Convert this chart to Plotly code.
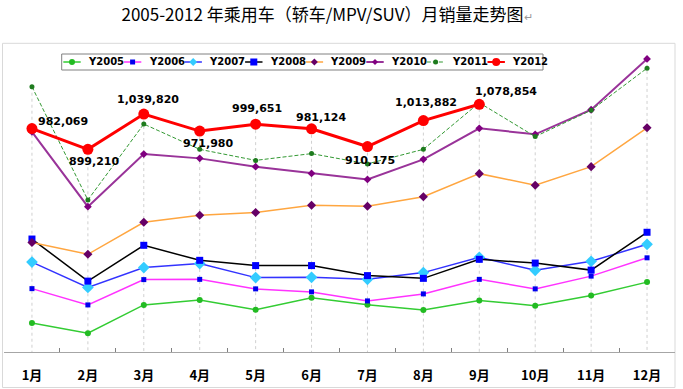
import plotly.graph_objects as go

# ---------------- data ----------------
months = ["1月", "2月", "3月", "4月", "5月", "6月", "7月", "8月", "9月", "10月", "11月", "12月"]
series_names = ["Y2005", "Y2006", "Y2007", "Y2008", "Y2009", "Y2010", "Y2011", "Y2012"]
y2005 = [206000, 165000, 278000, 298000, 259000, 307000, 279000, 258000, 296000, 275000, 316000, 369000]
y2006 = [343000, 278000, 379000, 380000, 342000, 330000, 294000, 322000, 380000, 342000, 393000, 466000]
y2007 = [449000, 348000, 427000, 443000, 387000, 388000, 380000, 407000, 468000, 416000, 452000, 520000]
y2008 = [541000, 373000, 516000, 456000, 435000, 435000, 395000, 384000, 460000, 445000, 417000, 568000]
y2009 = [527000, 480000, 608000, 636000, 647000, 676000, 672000, 710000, 802000, 756000, 830000, 985000]
y2010 = [969000, 670000, 880000, 863000, 830000, 803000, 779000, 859000, 983000, 959000, 1057000, 1260000]
y2011 = [1149000, 697000, 1000000, 899000, 855000, 882000, 841000, 899000, 1085000, 950000, 1055000, 1223000]
y2012 = [982069, 899210, 1039820, 971980, 999651, 981124, 910175, 1013882, 1078854]

values = [y2005, y2006, y2007, y2008, y2009, y2010, y2011, y2012]

# ---------------- styles ----------------
styles = [
    dict(line=dict(color="#33CC33", width=1.5), marker=dict(symbol="circle", size=6, color="#22BB22")),
    dict(line=dict(color="#FF33FF", width=1.5), marker=dict(symbol="square", size=5, color="#0000EE")),
    dict(line=dict(color="#3333FF", width=1.5), marker=dict(symbol="diamond", size=9, color="#33CCFF")),
    dict(line=dict(color="#000000", width=1.5), marker=dict(symbol="square", size=7, color="#0000FF")),
    dict(line=dict(color="#FFA640", width=1.5), marker=dict(symbol="diamond", size=7, color="#660066")),
    dict(line=dict(color="#993399", width=2), marker=dict(symbol="diamond", size=6, color="#800080")),
    dict(line=dict(color="#339933", width=1, dash="4px,2px"), marker=dict(symbol="circle", size=5, color="#1E7B1E")),
    dict(line=dict(color="#FF0000", width=3), marker=dict(symbol="circle", size=11, color="#FF0000")),
]

W, H = 683, 389
ML, MR, MT, MB = 4, 8, 50, 37
PW, PH = W - ML - MR, H - MT - MB
Y_MIN, Y_MAX = 90036, 1295620

x_idx = list(range(len(months)))

fig = go.Figure()

# drop lines (from the highest point of each month down to the axis)
drop_x, drop_y = [], []
for i in x_idx:
    top = max(v[i] for v in values if i < len(v))
    drop_x += [i, i, None]
    drop_y += [top, Y_MIN, None]
fig.add_trace(go.Scatter(x=drop_x, y=drop_y, mode="lines",
                         line=dict(color="#D0D0D0", width=1, dash="dot"),
                         hoverinfo="skip", showlegend=False))

for name, vals, st in zip(series_names, values, styles):
    fig.add_trace(go.Scatter(x=x_idx[:len(vals)], y=vals, name=name, mode="lines+markers",
                             line=st["line"], marker=st["marker"], showlegend=False))

# data labels for Y2012
label_shift = [(31, 7), (6, -12), (4, 15), (8, -12), (1, 16), (9, 11), (3, -14), (3, 18), (27, 13)]
for i, (v, (dx, dy)) in enumerate(zip(y2012, label_shift)):
    fig.add_annotation(x=i, y=v, xref="x", yref="y", text=f"{v:,}", showarrow=False,
                       xanchor="center", yanchor="middle", xshift=dx, yshift=dy,
                       font=dict(family="DejaVu Sans", size=11, color="#000000", weight="bold"))


def px_x(p):
    return (p - ML) / PW


def px_y(p):
    return (H - MB - p) / PH


shapes = []
# outer chart border
shapes.append(dict(type="rect", xref="paper", yref="paper",
                   x0=px_x(2.5), x1=px_x(675), y0=px_y(387.5), y1=px_y(43.3),
                   line=dict(color="#D9D9D9", width=1), layer="below"))
# legend box
shapes.append(dict(type="rect", xref="paper", yref="paper",
                   x0=px_x(61.7), x1=px_x(543), y0=px_y(70), y1=px_y(54),
                   line=dict(color="#808080", width=1), fillcolor="white", layer="above"))

step = 60.6
for k, (name, st) in enumerate(zip(series_names, styles)):
    x0 = 63.3 + step * k
    xc = x0 + 8.7
    ly = 62
    ln = dict(st["line"])
    ln["width"] = min(ln["width"], 2)
    shapes.append(dict(type="line", xref="paper", yref="paper",
                       x0=px_x(x0), x1=px_x(x0 + 17.4), y0=px_y(ly), y1=px_y(ly),
                       line=ln, layer="above"))
    m = st["marker"]
    r = max(2, min(m["size"], 8) / 2)
    if m["symbol"] == "circle":
        shapes.append(dict(type="circle", xref="paper", yref="paper",
                           xsizemode="pixel", ysizemode="pixel",
                           xanchor=px_x(xc), yanchor=px_y(ly),
                           x0=-r, x1=r, y0=-r, y1=r,
                           fillcolor=m["color"], line=dict(width=0), layer="above"))
    elif m["symbol"] == "square":
        shapes.append(dict(type="rect", xref="paper", yref="paper",
                           xsizemode="pixel", ysizemode="pixel",
                           xanchor=px_x(xc), yanchor=px_y(ly),
                           x0=-r, x1=r, y0=-r, y1=r,
                           fillcolor=m["color"], line=dict(width=0), layer="above"))
    else:
        shapes.append(dict(type="path", xref="paper", yref="paper",
                           xsizemode="pixel", ysizemode="pixel",
                           xanchor=px_x(xc), yanchor=px_y(ly),
                           path=f"M 0 {-r} L {r} 0 L 0 {r} L {-r} 0 Z",
                           fillcolor=m["color"], line=dict(width=0), layer="above"))
    fig.add_annotation(xref="paper", yref="paper", x=px_x(86 + step * k), y=px_y(ly),
                       text=name, showarrow=False, xanchor="left", yanchor="middle",
                       font=dict(family="DejaVu Sans", size=10, color="#000000", weight="bold"))

fig.update_layout(
    width=W, height=H,
    margin=dict(l=ML, r=MR, t=MT, b=MB),
    paper_bgcolor="white", plot_bgcolor="white",
    showlegend=False,
    shapes=shapes,
    title=dict(
        text="2005-2012 年乘用车（轿车/MPV/SUV）月销量走势图<span style='font-size:11px;color:#999999'>↵</span>",
        x=327 / W, xref="container", xanchor="center",
        y=1 - 15 / H, yref="container", yanchor="middle",
        font=dict(family="Noto Sans CJK SC", size=17, color="#000000"),
    ),
    xaxis=dict(
        range=[-0.5, 11.5], tickmode="array", tickvals=x_idx, ticktext=months,
        showgrid=False, zeroline=False, ticks="",
        showline=True, linecolor="#A6A6A6", linewidth=1,
        tickfont=dict(family="Noto Sans CJK SC", size=13, color="#000000", weight="bold"),
        ticklabelstandoff=11,
        minor=dict(tickmode="array", tickvals=[i + 0.5 for i in x_idx[:-1]],
                   ticks="inside", ticklen=4, tickcolor="#808080", showgrid=False),
    ),
    yaxis=dict(range=[Y_MIN, Y_MAX], visible=False, showgrid=False, zeroline=False),
)

fig.write_html("out.html", config={"displayModeBar": False},
               post_script="document.body.style.margin='0';")
